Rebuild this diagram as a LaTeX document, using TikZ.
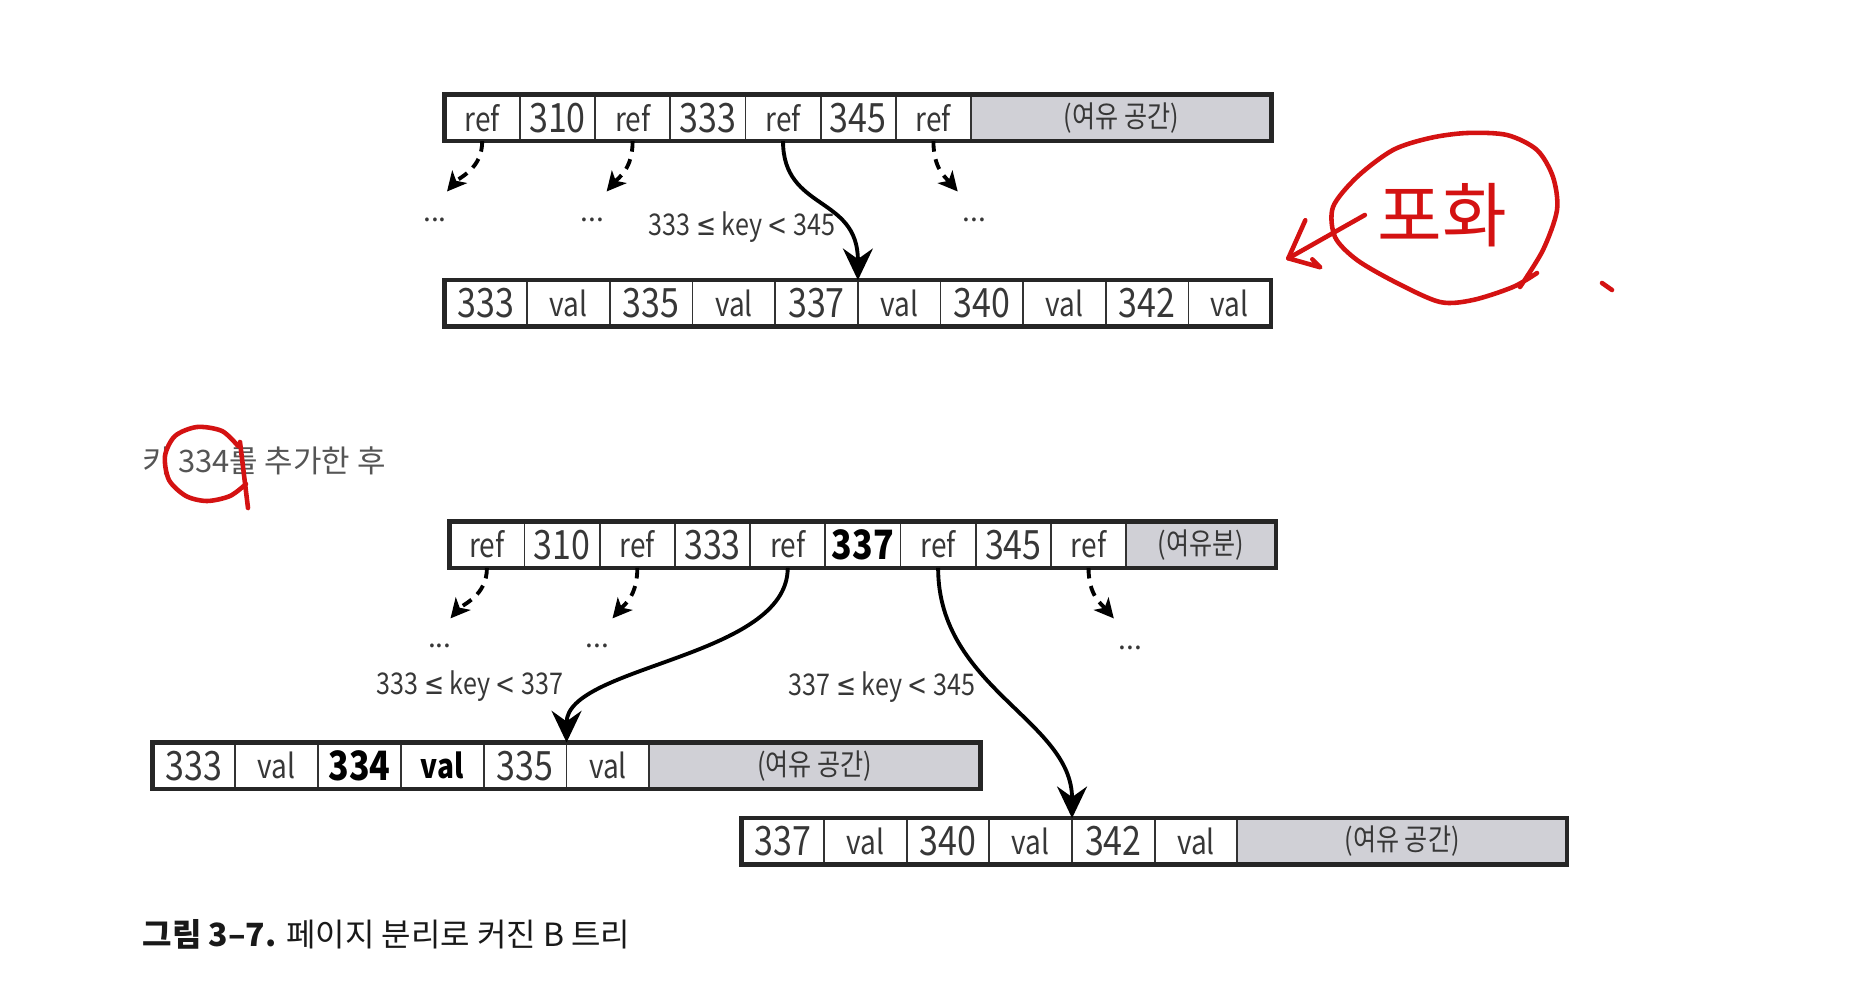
\documentclass[tikz,border=0pt]{standalone}
\usepackage{fontspec}
\setmainfont{Noto Sans CJK KR}
\newfontfamily\narrowfont[FakeStretch=0.84]{Noto Sans CJK KR}
\newfontfamily\symbfont[FakeStretch=0.8]{DejaVu Sans}
\usepackage{tikz}
\usetikzlibrary{
	arrows.meta,
	positioning,
	calc
}
\definecolor{freegray}{RGB}{208,208,214}
\definecolor{inkgray}{RGB}{55,55,55}
\definecolor{penred}{RGB}{212,18,18}
\newcommand{\lessEq}{{\symbfont ≤}}
\newcommand{\lessThan}{{\symbfont <}}

\begin{document}
\begin{tikzpicture}[
				x=0.01cm, y=-0.01cm,
				cell/.style={
					rectangle, draw=black!80, line width=0.5pt,
					inner sep=0pt, outer sep=0pt, anchor=north west,
					minimum height=0.465cm, text=inkgray
				},
				keycell/.style={
					cell, minimum width=0.752cm,
					font=\narrowfont\fontsize{11.5}{12}\selectfont
				},
				refcell/.style={
					cell, minimum width=0.752cm,
					font=\narrowfont\fontsize{9.5}{10}\selectfont
				},
				boldkey/.style={
					keycell, text=black,
					font=\narrowfont\bfseries\fontsize{11.5}{12}\selectfont
				},
				boldref/.style={
					refcell, text=black,
					font=\narrowfont\bfseries\fontsize{9.5}{10}\selectfont
				},
				freecell/.style={
					cell, fill=freegray,
					font=\narrowfont\fontsize{8.5}{9}\selectfont
				},
				rowframe/.style={draw=black!85, line width=1.3pt},
				solidarrow/.style={-{Stealth[length=9pt,width=8.5pt,inset=3pt]}, line width=1.1pt, black},
				dotarrow/.style={-{Stealth[length=5.5pt,width=5.5pt,inset=1.5pt]}, line width=1.1pt, black,
					dash pattern=on 3pt off 2.2pt},
				dotsnode/.style={text=inkgray, font=\fontsize{8}{9}\selectfont},
				rangelbl/.style={text=inkgray, inner sep=0pt, anchor=east, font=\narrowfont\fontsize{8.5}{10}\selectfont},
				redpen/.style={draw=penred, line width=1.3pt, line cap=round, line join=round}
				]
				\useasboundingbox (0,0) rectangle (1854,1000);
				
				% internal page before the split
				\foreach \sty/\lbl [count=\i] in {refcell/ref, keycell/310, refcell/ref, keycell/333,
					refcell/ref, keycell/345, refcell/ref}
					\node[\sty] (t\i) at ({444.6+75.2*(\i-1)},94.6) {\lbl};
				\node[freecell, minimum width=3.001cm] (tfree) at (t7.north east) {(여유 공간)};
				\draw[rowframe] (t1.north west) rectangle (tfree.south east);
				
				% full leaf page
				\foreach \sty/\lbl [count=\i] in {keycell/333, refcell/val, keycell/335, refcell/val,
					keycell/337, refcell/val, keycell/340, refcell/val, keycell/342, refcell/val}
					\node[\sty, minimum width=0.8265cm] (a\i) at ({444.6+82.65*(\i-1)},280.2) {\lbl};
				\draw[rowframe] (a1.north west) rectangle (a10.south east);
				
				% pointers of the first page
				\coordinate (tp1) at (447,191.5);
				\coordinate (tp2) at (606.6,191.5);
				\coordinate (tp3) at (957.7,191.5);
				\draw[dotarrow] (t1.south) .. controls +(0,28) and +(12,-14) .. (tp1);
				\draw[dotarrow] (t3.south) .. controls +(0,28) and +(12,-14) .. (tp2);
				\draw[dotarrow] (t7.south) .. controls +(0,28) and +(-12,-14) .. (tp3);
				\node[dotsnode] (tdots1) at (435,220) {...};
				\node[dotsnode] (tdots2) at (592.4,220) {...};
				\node[dotsnode] (tdots3) at (974.3,220) {...};
				\draw[solidarrow] (t5.south) .. controls +(0,70) and +(0,-85) .. (a5.north east);
				\node[rangelbl] (range1) at (836,227) {333 \lessEq{} key \lessThan{} 345};
				
				% after the insert
				\node[anchor=west, inner sep=0pt, text=inkgray!85, font=\fontsize{8.8}{9}\selectfont] (after)
					at (141.9,461) {키 334를 추가한 후};
				
				% internal page after the split
				\foreach \sty/\lbl [count=\i] in {refcell/ref, keycell/310, refcell/ref, keycell/333,
					refcell/ref, boldkey/337, refcell/ref, keycell/345, refcell/ref}
					\node[\sty] (u\i) at ({449.3+75.2*(\i-1)},521.4) {\lbl};
				\node[freecell, minimum width=1.497cm] (ufree) at (u9.north east) {(여유분)};
				\draw[rowframe] (u1.north west) rectangle (ufree.south east);
				
				% left leaf
				\foreach \sty/\lbl [count=\i] in {keycell/333, refcell/val, boldkey/334, boldref/val,
					keycell/335, refcell/val}
					\node[\sty, minimum width=0.828cm] (b\i) at ({152.5+82.8*(\i-1)},742.5) {\lbl};
				\node[freecell, minimum width=3.309cm] (bfree) at (b6.north east) {(여유 공간)};
				\draw[rowframe] (b1.north west) rectangle (bfree.south east);
				
				% right leaf
				\foreach \sty/\lbl [count=\i] in {keycell/337, refcell/val, keycell/340, refcell/val,
					keycell/342, refcell/val}
					\node[\sty, minimum width=0.8265cm] (r\i) at ({741.4+82.65*(\i-1)},818.2) {\lbl};
				\node[freecell, minimum width=3.294cm] (rfree) at (r6.north east) {(여유 공간)};
				\draw[rowframe] (r1.north west) rectangle (rfree.south east);
				
				% pointers of the second page
				\coordinate (bp1) at (450.5,618.4);
				\coordinate (bp2) at (612.5,618.4);
				\coordinate (bp3) at (1113.8,618.4);
				\draw[dotarrow] (u1.south) .. controls +(0,28) and +(12,-14) .. (bp1);
				\draw[dotarrow] (u3.south) .. controls +(0,28) and +(12,-14) .. (bp2);
				\draw[dotarrow] (u9.south) .. controls +(0,28) and +(-12,-14) .. (bp3);
				\node[dotsnode] (bdots1) at (439.8,646) {...};
				\node[dotsnode] (bdots2) at (597.1,646) {...};
				\node[dotsnode] (bdots3) at (1130.4,648) {...};
				\draw[solidarrow] (u5.south) .. controls +(0,90) and +(0,-77) .. (b5.north east);
				\draw[solidarrow] (u7.south) .. controls +(0,120) and +(0,-98) .. (r4.north east);
				\node[rangelbl] (range2) at (564,686) {333 \lessEq{} key \lessThan{} 337};
				\node[rangelbl] (range3) at (976,687) {337 \lessEq{} key \lessThan{} 345};
				
				% caption
				\node[anchor=west, inner sep=0pt, text=black!90, font=\fontsize{9.1}{10}\selectfont] (caption)
					at (141.9,934) {\textbf{그림 3--7.} 페이지 분리로 커진 B 트리};
				
				% red pen notes
				\draw[redpen] plot[smooth] coordinates {(238,446) (222,431) (197,427) (175,436) (165,456)
					(169,480) (186,496) (207,501) (230,496) (246,484)};
				\draw[redpen] (240,442) -- (248,508);
				\node[text=penred, font=\fontsize{20}{20}\selectfont] (memo) at (1442,215) {포화};
				\draw[redpen] plot[smooth] coordinates {(1520,287) (1543,250) (1557,210) (1553,177)
					(1537,150) (1507,135) (1467,133) (1430,138) (1393,150) (1357,177) (1333,207)
					(1335,237) (1357,260) (1397,283) (1440,302) (1473,300) (1513,287) (1537,273)};
				\coordinate (memotip) at (1288.3,258.3);
				\draw[redpen] (memo.west) -- (memotip);
				\draw[redpen] ($(memotip)+(17,-38)$) -- (memotip) -- ++(32,9) -- ++(-8,-8);
				\draw[redpen] (1602,283) -- (1612,290);
			\end{tikzpicture}
\end{document}
